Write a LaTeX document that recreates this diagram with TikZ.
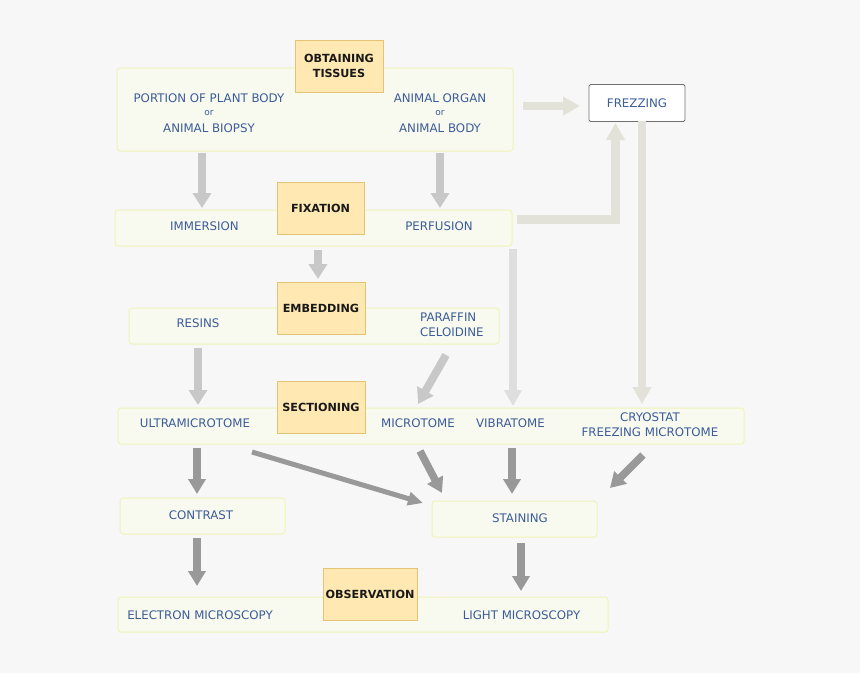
\documentclass[tikz,border=0pt]{standalone}
\usepackage{fontspec}
\setmainfont{DejaVu Sans}
\usetikzlibrary{arrows.meta}
\definecolor{bgc}{HTML}{F7F7F7}
\definecolor{barfill}{HTML}{F9FAEF}
\definecolor{barline}{HTML}{EFF3B9}
\definecolor{orfill}{HTML}{FFE8B2}
\definecolor{orline}{HTML}{E4C276}
\definecolor{tblue}{HTML}{3B5B99}
\definecolor{lgc}{HTML}{C8C8C8}
\definecolor{vgc}{HTML}{DEDEDE}
\definecolor{bgc2}{HTML}{E2E2D8}
\definecolor{dgc}{HTML}{999999}
\definecolor{frline}{HTML}{707070}
\tikzset{
  bar/.style={draw=barline, fill=barfill, rounded corners=3pt, line width=1pt, inner sep=0pt},
  lbl/.style={draw=orline, fill=orfill, line width=1pt, inner sep=0pt},
  txt/.style={text=tblue, font=\fontsize{11.8}{15}\selectfont, inner sep=0pt, align=center},
  smalltxt/.style={text=tblue, font=\fontsize{9}{10}\selectfont, inner sep=0pt},
  hd/.style={text=black!90, font=\bfseries\fontsize{11.2}{15}\selectfont, inner sep=0pt, align=center},
  lightarrow/.style={draw=lgc, line width=8pt, -{Triangle[width=18pt,length=15pt]}},
  vibarrow/.style={draw=vgc, line width=8pt, -{Triangle[width=17pt,length=16pt]}},
  beigearrow/.style={draw=bgc2, line width=8.5pt, -{Triangle[width=18pt,length=17pt]}},
  darkarrow/.style={draw=dgc, line width=7.5pt, -{Triangle[width=17pt,length=15pt]}},
  thinarrow/.style={draw=dgc, line width=5pt, -{Triangle[width=13pt,length=15pt]}},
}
\begin{document}
\begin{tikzpicture}[x=1pt,y=-1pt]
\useasboundingbox (0,0) rectangle (860,673);
\fill[bgc] (0,0) rectangle (860,673);

% bars
\node[bar, minimum width=396pt, minimum height=83pt] (top) at (315,109.5) {};
\node[bar, minimum width=397pt, minimum height=36pt] (fix) at (313.5,228) {};
\node[bar, minimum width=370pt, minimum height=36pt] (emb) at (314,326) {};
\node[bar, minimum width=626pt, minimum height=36pt] (sec) at (431,426) {};
\node[bar, minimum width=165pt, minimum height=36pt] (con) at (202.5,516) {};
\node[bar, minimum width=165pt, minimum height=36pt] (sta) at (514.5,519) {};
\node[bar, minimum width=490pt, minimum height=35pt] (obs) at (363,614.5) {};
\node[draw=frline, fill=white, line width=0.9pt, rounded corners=1.5pt, minimum width=96pt, minimum height=37pt, inner sep=0pt] (frz) at (637,103) {};

% labels
\node[lbl, minimum width=88pt, minimum height=52pt] (lobt) at (339,66) {};
\node[lbl, minimum width=87pt, minimum height=52pt] (lfix) at (320.5,208) {};
\node[lbl, minimum width=88pt, minimum height=52pt] (lemb) at (321,308) {};
\node[lbl, minimum width=88pt, minimum height=52pt] (lsec) at (321,407) {};
\node[lbl, minimum width=94pt, minimum height=52pt] (lobs) at (370,594) {};

\node[hd] (tobt) at (339,66) {OBTAINING\\TISSUES};
\node[hd] (tfix) at (320.5,208) {FIXATION};
\node[hd] (temb) at (321,308) {EMBEDDING};
\node[hd] (tsec) at (321,407) {SECTIONING};
\node[hd] (tobs) at (370,594) {OBSERVATION};

% texts
\node[txt] (plant) at (209,98.5) {PORTION OF PLANT BODY};
\node[smalltxt] (or1) at (209,113.5) {or};
\node[txt] (biopsy) at (209,128) {ANIMAL BIOPSY};
\node[txt] (organ) at (440,98.5) {ANIMAL ORGAN};
\node[smalltxt] (or2) at (440,113.5) {or};
\node[txt] (body) at (440,128) {ANIMAL BODY};
\node[txt] (frzt) at (637,103) {FREZZING};
\node[txt] (imm) at (204.5,226.5) {IMMERSION};
\node[txt] (perf) at (439,226.5) {PERFUSION};
\node[txt] (res) at (198,323) {RESINS};
\node[txt, anchor=west, align=left] (par) at (420,325) {PARAFFIN\\CELOIDINE};
\node[txt] (ultra) at (195,423) {ULTRAMICROTOME};
\node[txt] (micro) at (418,423) {MICROTOME};
\node[txt] (vibra) at (510.5,423) {VIBRATOME};
\node[txt] (cryo) at (650,424.5) {CRYOSTAT\\FREEZING MICROTOME};
\node[txt] (cont) at (201,515) {CONTRAST};
\node[txt] (stai) at (520,518) {STAINING};
\node[txt] (elec) at (200,615) {ELECTRON MICROSCOPY};
\node[txt] (light) at (521.5,615) {LIGHT MICROSCOPY};

% connector end points
\coordinate (a1s) at (202,153); \coordinate (a1e) at (202,208);
\coordinate (a2s) at (440,153); \coordinate (a2e) at (440,208);
\coordinate (a3s) at (318,250); \coordinate (a3e) at (318,279);
\coordinate (a4s) at (198,348); \coordinate (a4e) at (198,405);
\coordinate (a5s) at (446,355); \coordinate (a5e) at (418,404);
\coordinate (a6s) at (513,249); \coordinate (a6e) at (513,406);
\coordinate (a7s) at (642,121); \coordinate (a7e) at (642,404);
\coordinate (a8s) at (523,106); \coordinate (a8e) at (580,106);
\coordinate (a9s) at (517,219.5); \coordinate (a9e) at (615.5,123);
\coordinate (b1s) at (197,448); \coordinate (b1e) at (197,494);
\coordinate (b2s) at (252,452); \coordinate (b2e) at (423,503);
\coordinate (b3s) at (420,451); \coordinate (b3e) at (442,493);
\coordinate (b4s) at (512,448); \coordinate (b4e) at (512,494);
\coordinate (b5s) at (643,455); \coordinate (b5e) at (610,488);
\coordinate (b6s) at (197,538); \coordinate (b6e) at (197,586);
\coordinate (b7s) at (521,543); \coordinate (b7e) at (521,591);

% connectors
\draw[lightarrow] (a1s) -- (a1e);
\draw[lightarrow] (a2s) -- (a2e);
\draw[lightarrow] (a3s) -- (a3e);
\draw[lightarrow] (a4s) -- (a4e);
\draw[lightarrow] (a5s) -- (a5e);
\draw[vibarrow] (a6s) -- (a6e);
\draw[beigearrow] (a7s) -- (a7e);
\draw[beigearrow] (a8s) -- (a8e);
\draw[beigearrow, line join=miter] (a9s) -| (a9e);
\draw[darkarrow] (b1s) -- (b1e);
\draw[thinarrow] (b2s) -- (b2e);
\draw[darkarrow] (b3s) -- (b3e);
\draw[darkarrow] (b4s) -- (b4e);
\draw[darkarrow] (b5s) -- (b5e);
\draw[darkarrow] (b6s) -- (b6e);
\draw[darkarrow] (b7s) -- (b7e);
\end{tikzpicture}
\end{document}
